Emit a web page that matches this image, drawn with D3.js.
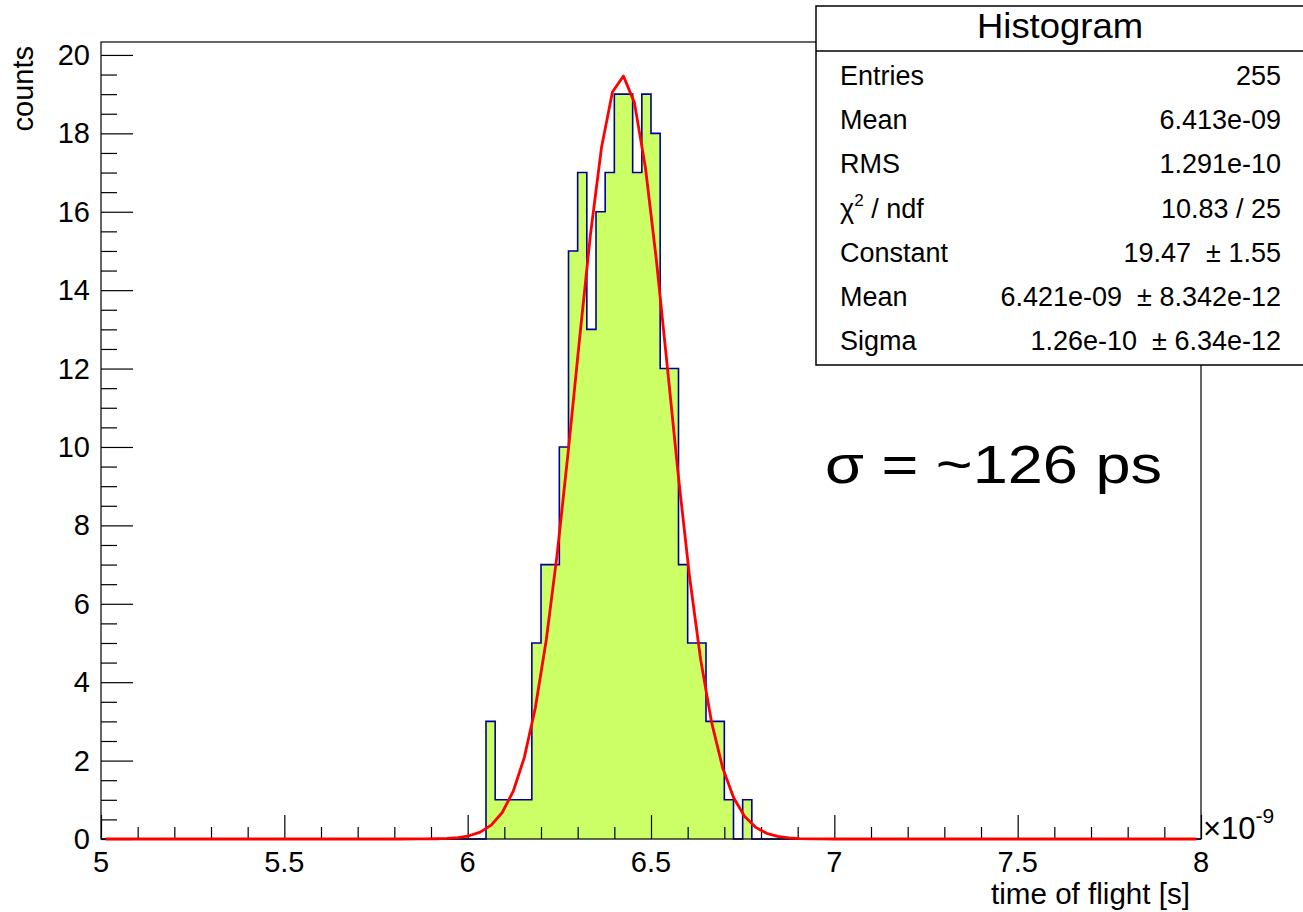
<!DOCTYPE html>
<html>
<head>
<meta charset="utf-8">
<script src="https://cdn.jsdelivr.net/npm/d3@7"></script>
<style>
  html, body { margin: 0; padding: 0; background: #fff; }
  svg { display: block; }
  text { font-family: "Liberation Sans", Arial, Helvetica, sans-serif; fill: #000; }
</style>
</head>
<body>
<svg id="chart" width="1303" height="912"></svg>
<script>
// ---------- data (x in units of 1e-9 s) ----------
const xRange = [5, 8];
const yRange = [0, 20.33];
const binLowEdges = [6.05, 6.075, 6.1, 6.125, 6.15, 6.175, 6.2, 6.225, 6.25, 6.275,
                     6.3, 6.325, 6.35, 6.375, 6.4, 6.425, 6.45, 6.475, 6.5, 6.525,
                     6.55, 6.575, 6.6, 6.625, 6.65, 6.675, 6.7, 6.725, 6.75];
const binCounts   = [3, 1, 1, 1, 1, 5, 7, 7, 10, 15,
                     17, 13, 16, 17, 19, 19, 17, 19, 18, 12,
                     12, 7, 5, 5, 3, 3, 1, 0, 1];
const binWidth = 0.025;
const fitParams = { constant: 19.47, mean: 6.421, sigma: 0.126 };
const fitRange = [5.0125, 7.9875];
const fitNpx = 100;
const xMajorTicks = [5, 5.5, 6, 6.5, 7, 7.5, 8];
const yMajorTicks = [0, 2, 4, 6, 8, 10, 12, 14, 16, 18, 20];
const statLabels = ["Entries", "Mean", "RMS", "CHI", "Constant", "Mean", "Sigma"];
const statValues = ["255", "6.413e-09", "1.291e-10", "10.83 / 25",
                    "19.47  \u00B1 1.55", "6.421e-09  \u00B1 8.342e-12", "1.26e-10  \u00B1 6.34e-12"];

// ---------- layout ----------
const svg = d3.select("#chart");
const frame = { left: 101, right: 1201, top: 42, bottom: 839 };
const x = d3.scaleLinear().domain(xRange).range([frame.left, frame.right]);
const y = d3.scaleLinear().domain(yRange).range([frame.bottom, frame.top]);
const fs = 29;

// histogram step outline
let d = `M${x(xRange[0])},${y(0)}`;
d += `L${x(binLowEdges[0])},${y(0)}`;
binLowEdges.forEach((lo, i) => {
  d += `L${x(lo)},${y(binCounts[i])}L${x(lo + binWidth)},${y(binCounts[i])}`;
});
const lastHi = binLowEdges[binLowEdges.length - 1] + binWidth;
d += `L${x(lastHi)},${y(0)}L${x(xRange[1])},${y(0)}`;

svg.append("path")
  .attr("d", d + "Z")
  .attr("fill", "#ccff66")
  .attr("stroke", "none");
svg.append("path")
  .attr("d", d)
  .attr("fill", "none")
  .attr("stroke", "#000099")
  .attr("stroke-width", 1.6);

// frame
svg.append("rect")
  .attr("x", frame.left).attr("y", frame.top)
  .attr("width", frame.right - frame.left).attr("height", frame.bottom - frame.top)
  .attr("fill", "none").attr("stroke", "#000").attr("stroke-width", 1.2);

// x axis ticks (ROOT style, pointing inside)
const xAxis = d3.axisTop(x).tickValues(xMajorTicks).tickSize(24).tickFormat("");
const gx = svg.append("g").attr("transform", `translate(0,${frame.bottom})`).call(xAxis);
gx.select(".domain").remove();
gx.selectAll("line").attr("stroke", "#000").attr("stroke-width", 1.2);
const xMinor = d3.range(0, 31).map(i => 5 + i * 0.1).filter(v => Math.abs(v * 2 - Math.round(v * 2)) > 1e-6);
const xAxisMinor = d3.axisTop(x).tickValues(xMinor).tickSize(12).tickFormat("");
const gxm = svg.append("g").attr("transform", `translate(0,${frame.bottom})`).call(xAxisMinor);
gxm.select(".domain").remove();
gxm.selectAll("line").attr("stroke", "#000").attr("stroke-width", 1.2);
svg.append("g").selectAll("text").data(xMajorTicks).join("text")
  .attr("x", v => x(v)).attr("y", 872)
  .attr("text-anchor", "middle").attr("font-size", fs)
  .text(v => d3.format("")(v));

// y axis ticks
const yAxis = d3.axisRight(y).tickValues(yMajorTicks).tickSize(32).tickFormat("");
const gy = svg.append("g").attr("transform", `translate(${frame.left},0)`).call(yAxis);
gy.select(".domain").remove();
gy.selectAll("line").attr("stroke", "#000").attr("stroke-width", 1.2);
const yMinor = d3.range(0, 41).map(i => i * 0.5).filter(v => v % 2 !== 0 && v <= yRange[1]);
const yAxisMinor = d3.axisRight(y).tickValues(yMinor).tickSize(16).tickFormat("");
const gym = svg.append("g").attr("transform", `translate(${frame.left},0)`).call(yAxisMinor);
gym.select(".domain").remove();
gym.selectAll("line").attr("stroke", "#000").attr("stroke-width", 1.2);
svg.append("g").selectAll("text").data(yMajorTicks).join("text")
  .attr("x", 90).attr("y", v => y(v) + 10)
  .attr("text-anchor", "end").attr("font-size", fs)
  .text(v => v);

// axis titles
svg.append("text").attr("x", 1190).attr("y", 904)
  .attr("text-anchor", "end").attr("font-size", fs)
  .attr("textLength", 199).attr("lengthAdjust", "spacingAndGlyphs")
  .text("time of flight [s]");
svg.append("text").attr("transform", "translate(33,46) rotate(-90)")
  .attr("text-anchor", "end").attr("font-size", fs).text("counts");
const exp = svg.append("text").attr("x", 1203).attr("y", 839).attr("font-size", 31);
exp.append("tspan").text("\u00D710");
exp.append("tspan").attr("dy", -16).attr("font-size", 21).text("-9");

// fit curve
const step = (fitRange[1] - fitRange[0]) / (fitNpx - 1);
const fitPts = d3.range(fitNpx).map(i => {
  const xv = fitRange[0] + i * step;
  const z = (xv - fitParams.mean) / fitParams.sigma;
  return [xv, fitParams.constant * Math.exp(-0.5 * z * z)];
});
svg.append("path")
  .attr("d", d3.line().x(p => x(p[0])).y(p => y(p[1]))(fitPts))
  .attr("fill", "none").attr("stroke", "#ff0000").attr("stroke-width", 2.8)
  .attr("stroke-linejoin", "round");

// stats box
const box = { left: 816, top: 6, right: 1303, bottom: 365, sep: 51 };
svg.append("rect")
  .attr("x", box.left).attr("y", box.top)
  .attr("width", box.right - box.left + 2).attr("height", box.bottom - box.top)
  .attr("fill", "#fff").attr("stroke", "#000").attr("stroke-width", 1.5);
svg.append("line")
  .attr("x1", box.left).attr("x2", box.right)
  .attr("y1", box.sep).attr("y2", box.sep)
  .attr("stroke", "#000").attr("stroke-width", 1.5);
svg.append("text").attr("x", 1060).attr("y", 38)
  .attr("text-anchor", "middle").attr("font-size", 35)
  .attr("textLength", 166).attr("lengthAdjust", "spacingAndGlyphs")
  .text("Histogram");
const sfs = 27;
statLabels.forEach((lab, i) => {
  const yy = 85 + i * 44.2;
  const t = svg.append("text").attr("x", 840).attr("y", yy).attr("font-size", sfs);
  if (lab === "CHI") {
    t.append("tspan").text("\u03C7");
    t.append("tspan").attr("dy", -12).attr("font-size", 17).text("2");
    t.append("tspan").attr("dy", 12).text(" / ndf");
  } else {
    t.text(lab);
  }
  svg.append("text").attr("x", 1281).attr("y", yy)
    .attr("text-anchor", "end").attr("font-size", sfs)
    .style("white-space", "pre")
    .text(statValues[i]);
});

// annotation
svg.append("text").attr("x", 825).attr("y", 483)
  .attr("font-size", 54)
  .attr("textLength", 337).attr("lengthAdjust", "spacingAndGlyphs")
  .text("\u03C3 = ~126 ps");
</script>
</body>
</html>
